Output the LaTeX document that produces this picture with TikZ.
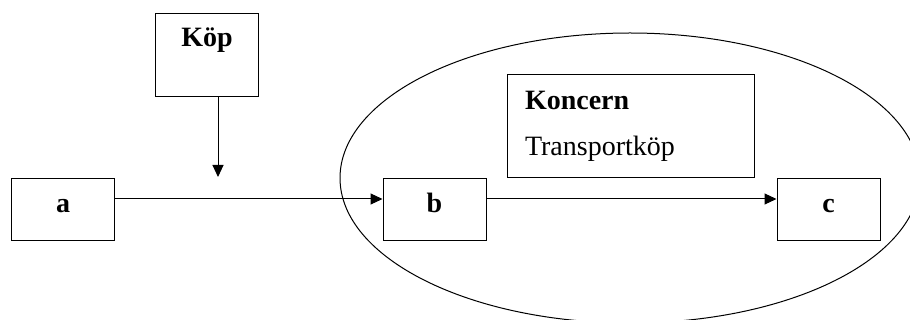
\documentclass[tikz,border=0pt]{standalone}
\usepackage{fontspec}
\setmainfont{Liberation Serif}
\usetikzlibrary{arrows.meta,shapes.geometric}
\begin{document}
\begin{tikzpicture}[x=1pt,y=-1pt,line width=1pt,
  box/.style={draw,rectangle,minimum width=103pt,minimum height=62pt,inner sep=0pt,
    text height=14pt,text depth=8pt,font=\fontsize{28}{32}\selectfont\bfseries},
  conn/.style={-{Triangle[length=12pt,width=11pt]}}]
\useasboundingbox (0,0) rectangle (910,320);
\clip (0,0) rectangle (910,320);
\node[draw,ellipse,minimum width=580pt,minimum height=290pt,inner sep=0pt] (grp) at (630,178) {};
\node[draw,rectangle,minimum width=103pt,minimum height=83pt,inner sep=0pt,anchor=north west] (kop) at (155,13) {};
\node[anchor=base,font=\fontsize{28}{32}\selectfont\bfseries] (koptext) at (kop.center |- 0,47) {Köp};
\node[box] (a) at (63,210) {a};
\node[box] (b) at (434.5,210) {b};
\node[box] (c) at (828.5,210) {c};
\node[draw,rectangle,minimum width=247pt,minimum height=103pt,inner xsep=18pt,inner ysep=0pt,
  align=left,text width=211pt,font=\fontsize{28}{46}\selectfont] (koncern) at (630.5,126.5)
  {\textbf{Koncern}\\Transportköp};
\coordinate (kopend) at (218,177);
\draw[conn] (kop.south -| kopend) -- (kopend);
\draw[conn] ([yshift=11pt]a.east) -- ([yshift=11pt]b.west);
\draw[conn] ([yshift=11pt]b.east) -- ([yshift=11pt]c.west);
\end{tikzpicture}
\end{document}
